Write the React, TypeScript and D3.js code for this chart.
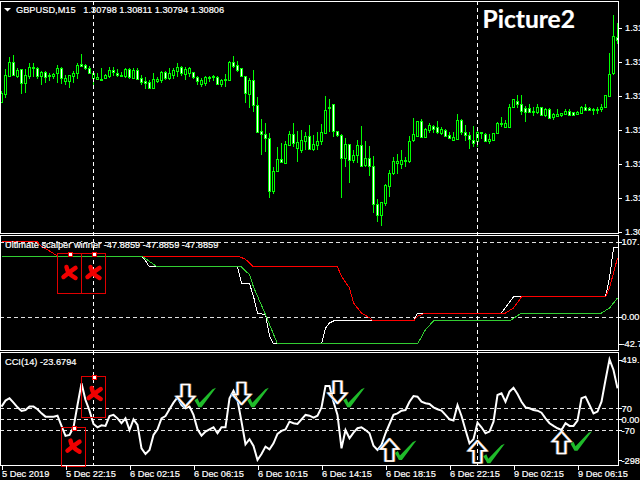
import { useEffect, useRef } from 'react';
import * as d3 from 'd3';

// Price panel, in points above the bottom of the chart
const opens = [
  392, 416, 472, 514, 472, 492, 450, 472, 498, 496,
  472, 483, 474, 472, 479, 495, 457, 457, 472, 479,
  507, 504, 496, 464, 465, 462, 464, 472, 489, 480,
  476, 472, 492, 466, 489, 465, 457, 453, 436, 457,
  460, 484, 466, 474, 486, 498, 479, 481, 483, 468,
  448, 451, 468, 471, 468, 447, 459, 461, 514, 504,
  495, 471, 419, 459, 384, 306, 297, 285, 126, 185,
  222, 212, 266, 298, 254, 250, 278, 292, 254, 263,
  275, 300, 376, 387, 306, 294, 224, 267, 218, 234,
  265, 203, 225, 202, 88, 55, 91, 143, 179, 209,
  206, 215, 215, 278, 290, 337, 288, 310, 323, 318,
  301, 311, 295, 280, 282, 339, 303, 294, 281, 276,
  300, 299, 277, 279, 299, 330, 318, 317, 377, 398,
  387, 375, 375, 366, 363, 379, 355, 372, 347, 353,
  353, 358, 368, 363, 359, 362, 378, 377, 371, 368,
  372, 377, 412, 481, 590,
];
const closes = [
  420, 474, 514, 474, 490, 450, 474, 498, 497, 472,
  483, 469, 470, 479, 495, 464, 465, 474, 480, 504,
  502, 494, 480, 480, 470, 464, 474, 490, 482, 475,
  475, 492, 467, 490, 463, 454, 451, 436, 462, 463,
  483, 466, 480, 489, 498, 479, 493, 495, 467, 457,
  459, 468, 469, 468, 448, 459, 462, 514, 502, 490,
  470, 419, 460, 384, 304, 297, 284, 126, 186, 222,
  212, 268, 298, 272, 273, 280, 292, 254, 268, 276,
  303, 370, 378, 305, 294, 224, 267, 218, 234, 265,
  203, 225, 200, 89, 56, 93, 144, 181, 216, 216,
  219, 219, 276, 297, 336, 290, 312, 324, 314, 302,
  312, 292, 287, 288, 339, 302, 293, 281, 272, 303,
  303, 277, 282, 300, 330, 328, 330, 378, 402, 388,
  366, 364, 364, 362, 379, 356, 373, 346, 357, 358,
  360, 368, 356, 355, 364, 380, 370, 372, 372, 372,
  378, 414, 477, 591, 580,
];
const highs = [
  428, 492, 528, 535, 495, 492, 492, 510, 510, 500,
  488, 488, 482, 482, 505, 500, 475, 475, 488, 510,
  537, 507, 502, 482, 482, 495, 478, 498, 498, 492,
  485, 495, 495, 496, 495, 474, 468, 460, 480, 468,
  488, 488, 495, 495, 510, 503, 498, 498, 485, 472,
  465, 472, 472, 474, 472, 462, 478, 517, 532, 518,
  496, 472, 465, 490, 408, 342, 332, 300, 198, 258,
  272, 276, 308, 330, 308, 310, 305, 325, 295, 305,
  328, 412, 403, 388, 307, 297, 285, 268, 250, 280,
  322, 277, 262, 232, 102, 94, 148, 190, 228, 238,
  250, 230, 292, 346, 338, 342, 316, 332, 326, 338,
  320, 312, 304, 305, 358, 342, 325, 305, 322, 315,
  303, 300, 298, 302, 335, 348, 340, 388, 404, 415,
  415, 382, 388, 378, 388, 380, 375, 375, 360, 373,
  362, 372, 372, 365, 368, 382, 388, 380, 375, 378,
  388, 415, 542, 655, 630,
];
const lows = [
  392, 405, 468, 472, 465, 418, 422, 464, 468, 464,
  445, 450, 458, 462, 450, 448, 444, 436, 450, 464,
  500, 490, 478, 438, 462, 457, 462, 466, 472, 468,
  468, 466, 462, 462, 460, 446, 432, 432, 434, 450,
  450, 460, 460, 462, 470, 472, 460, 468, 462, 444,
  440, 442, 455, 458, 445, 440, 438, 460, 496, 484,
  468, 392, 376, 365, 304, 235, 244, 106, 118, 185,
  210, 210, 264, 260, 214, 242, 250, 250, 246, 250,
  265, 298, 305, 288, 288, 106, 200, 152, 210, 210,
  202, 200, 172, 60, 35, 22, 82, 110, 175, 178,
  192, 200, 212, 275, 288, 288, 286, 302, 302, 298,
  295, 288, 282, 276, 280, 295, 278, 254, 260, 260,
  282, 275, 268, 276, 298, 318, 316, 316, 376, 376,
  355, 334, 360, 352, 358, 355, 348, 342, 340, 350,
  350, 356, 354, 352, 356, 360, 368, 370, 355, 358,
  365, 375, 410, 476, 568,
];
const priceTicks = [616, 514, 412, 310, 208, 106, 4];
const priceTickLabels = ['1.31', '1.31', '1.31', '1.31', '1.31', '1.31', '1.30'];

// Scalper panel: bar index and value of each corner of the three lines
const whiteBars = [0, 35, 36, 37, 59, 60, 62, 63, 64, 66, 67, 68, 80, 81, 82, 83, 103, 104, 125, 128, 151, 152, 153, 154];
const whiteValues = [81.3, 81.3, 75, 66.7, 66.7, 45.3, 44.4, 27.6, 5.3, 3.1, -25, -36, -36, -14.7, -8, -5.3, -5.3, 5.3, 5.3, 26.7, 26.7, 52, 92, 92];
const redBars = [0, 9, 10, 12, 14, 59, 61, 63, 84, 85, 87, 88, 90, 92, 93, 103, 104, 106, 126, 128, 130, 151, 152, 153, 154];
const redValues = [100, 100, 94, 88, 81.3, 81.3, 77, 66.7, 66.7, 54.2, 38.7, 18.7, 5.3, -1, -5.3, -5.3, 0.9, 5.3, 5.3, 12, 26.7, 26.7, 38.7, 58.7, 78.7];
const greenBars = [0, 35, 36, 39, 60, 62, 63, 66, 69, 104, 106, 108, 127, 130, 150, 152, 154];
const greenValues = [81.3, 81.3, 77.8, 66.7, 66.7, 56.4, 40, 3.1, -36, -36, -16.9, -5.3, -5.3, 5.3, 5.3, 12, 25.3];
const scalperLevels = [100, 0];
const scalperTicks = [100, 0, -36];
const scalperTickLabels = ['107.', '0.00', '-42.7'];

// CCI(14), one value per bar
const cci = [
  81, 119, 134, 106, 76, 53, 59, 81, 81, 64,
  38, 17, 17, 17, 23, -42, -106, -100, -51, 91,
  229, 123, 55, -30, -51, -38, -42, 21, 28, 6,
  -25, 6, -68, 0, -36, -185, -221, -195, -100, -64,
  6, 21, 64, 106, 140, 91, 70, 81, 28, -64,
  -104, -78, -64, -51, -89, -51, -51, 134, 182, 123,
  -15, -159, -127, -170, -259, -221, -174, -191, -153, -93,
  -74, -64, -15, -25, -30, 0, 28, 23, 11, 23,
  76, 212, 212, 112, 28, -185, -68, -121, -85, -57,
  -51, -68, -89, -168, -195, -163, -89, -30, 28, 38,
  55, 59, 112, 148, 144, 112, 102, 98, 76, 64,
  55, 28, 0, -8, 91, 21, -68, -153, -127, -21,
  -51, -89, -78, -15, 155, 165, 112, 176, 201, 161,
  112, 76, 70, 59, 55, 42, 6, -25, -42, -57,
  -68, -25, -42, -42, -8, 134, 144, 91, 38, 49,
  112, 250, 382, 314, 197,
];
const cciLevels = [70, 0, -70];
const cciTicks = [380, 70, 0, -70, -260];
const cciTickLabels = ['419.', '70', '0.00', '-70', '-298'];

const timeTicks = [0, 16, 32, 48, 64, 80, 96, 112, 128, 144];
const timeLabels = [
  '5 Dec 2019', '5 Dec 22:15', '6 Dec 02:15', '6 Dec 06:15', '6 Dec 10:15',
  '6 Dec 14:15', '6 Dec 18:15', '6 Dec 22:15', '9 Dec 02:15', '9 Dec 06:15',
];
const crosshairBars = [23, 119];

// Annotations pasted over the lower panels
const scalperCrossBars = [17, 23];
const scalperCrossValues = [58.7, 58.7];
const scalperBoxBars = [17, 23];
const scalperBoxTops = [84.9, 84.9];
const scalperBoxBottoms = [31.6, 31.6];
const cciCrossBars = [23.3, 18];
const cciCrossValues = [161, -174];
const cciBoxBars = [23, 18];
const cciBoxTops = [276, -51];
const cciBoxBottoms = [17, -298];
const downArrowBars = [46, 60, 84];
const downArrowValues = [81, 95, 102];
const upArrowBars = [97, 119, 140];
const upArrowValues = [-125, -136, -78];
const checkBars = [49.5, 62.7, 86.7, 99.6, 121.7, 143.5];
const checkValues = [76, 76, 76, -259, -280, -201];

const FONT = "'Liberation Sans', sans-serif";
const FONT_SIZE = 9.25;

export default function App() {
  const chartRef = useRef<SVGSVGElement | null>(null);

  useEffect(() => {
    if (!chartRef.current) return;
    const svg = d3.select(chartRef.current);
    svg.selectAll('*').remove();

    const right = 618.5;
    const x = d3.scaleLinear().domain([0, 154]).range([1.5, 617.5]);
    const yPrice = d3.scaleLinear().domain([0, 700]).range([233.33, 0]);
    const yScalper = d3.scaleLinear().domain([-42.7, 107]).range([349, 236.75]);
    const yCci = d3.scaleLinear().domain([-298, 419]).range([466.1, 353.5]);
    const px = (v: number) => Math.round(v) + 0.5;

    svg.append('rect').attr('width', 640).attr('height', 480).attr('fill', '#000');

    const clip = svg.append('defs').append('clipPath').attr('id', 'plot');
    clip.append('rect').attr('x', 0).attr('y', 0).attr('width', 618).attr('height', 466);

    const plot = svg.append('g').attr('clip-path', 'url(#plot)');

    // Velas
    const bars = d3.range(opens.length);
    const candles = plot.append('g').attr('shape-rendering', 'crispEdges');
    candles.selectAll('line').data(bars).enter().append('line')
      .attr('x1', (d) => x(d)).attr('x2', (d) => x(d))
      .attr('y1', (d) => Math.round(yPrice(highs[d])))
      .attr('y2', (d) => Math.round(yPrice(lows[d])))
      .attr('stroke', '#00ff00');
    candles.selectAll('rect').data(bars).enter().append('rect')
      .attr('x', (d) => x(d) - 1)
      .attr('width', 2)
      .attr('y', (d) => px(yPrice(Math.max(opens[d], closes[d]))))
      .attr('height', (d) => Math.max(1, Math.round(Math.abs(opens[d] - closes[d]) / 3)))
      .attr('fill', (d) => (closes[d] < opens[d] ? '#fff' : '#000'))
      .attr('stroke', '#00ff00');

    // Niveles punteados
    const level = (y: number) =>
      plot.append('line')
        .attr('x1', 0).attr('x2', right)
        .attr('y1', px(y)).attr('y2', px(y))
        .attr('stroke', '#e0e0e0')
        .attr('stroke-dasharray', '4 3')
        .attr('shape-rendering', 'crispEdges');
    scalperLevels.forEach((v) => level(yScalper(v)));
    cciLevels.forEach((v) => level(yCci(v)));

    // Lineas del indicador
    const drawLine = (xs: number[], ys: number[], color: string) => {
      plot.append('path')
        .datum(d3.range(xs.length))
        .attr('fill', 'none')
        .attr('stroke', color)
        .attr('shape-rendering', 'crispEdges')
        .attr('d', d3.line<number>().x((i) => x(xs[i])).y((i) => yScalper(ys[i])));
    };
    drawLine(whiteBars, whiteValues, '#ffffff');
    drawLine(redBars, redValues, '#ff0000');
    drawLine(greenBars, greenValues, '#32cd32');

    // CCI
    plot.append('path')
      .datum(cci)
      .attr('fill', 'none')
      .attr('stroke', '#fff')
      .attr('stroke-width', 2)
      .attr('d', d3.line<number>().x((_, i) => x(i)).y((d) => yCci(d)));

    // Cruces punteadas
    crosshairBars.forEach((b) => {
      plot.append('line')
        .attr('x1', x(b)).attr('x2', x(b))
        .attr('y1', 1).attr('y2', 466)
        .attr('stroke', '#fff')
        .attr('stroke-dasharray', '4 3')
        .attr('shape-rendering', 'crispEdges');
    });

    // Marcos de los paneles
    const panels = [[1.5, 233.5], [235.5, 350.5], [352.5, 465.5]];
    panels.forEach(([top, bottom]) => {
      svg.append('rect')
        .attr('x', 0.5).attr('y', top)
        .attr('width', right - 0.5).attr('height', bottom - top)
        .attr('fill', 'none').attr('stroke', '#fff')
        .attr('shape-rendering', 'crispEdges');
    });

    const notes = svg.append('g');

    // Cajas y marcadores rojos
    const box = (bar: number, top: number, bottom: number) => {
      notes.append('rect')
        .attr('x', x(bar) - 12).attr('y', px(top))
        .attr('width', 24).attr('height', Math.round(bottom - top))
        .attr('fill', 'none').attr('stroke', '#e00000')
        .attr('shape-rendering', 'crispEdges');
      notes.append('rect')
        .attr('x', x(bar) - 1.5).attr('y', px(top) - 1.5)
        .attr('width', 4).attr('height', 4)
        .attr('fill', '#fff').attr('stroke', '#f00000')
        .attr('shape-rendering', 'crispEdges');
    };
    scalperBoxBars.forEach((b, i) => box(b, yScalper(scalperBoxTops[i]), yScalper(scalperBoxBottoms[i])));
    cciBoxBars.forEach((b, i) => box(b, yCci(cciBoxTops[i]), Math.min(466, yCci(cciBoxBottoms[i]))));

    const cross = (cx: number, cy: number) => {
      notes.append('path')
        .attr('transform', `translate(${cx},${cy})`)
        .attr('d', 'M-3,-6 Q-2,1 6,5 M6,-5 Q0,-1 -6,4')
        .attr('fill', 'none')
        .attr('stroke', '#f00000')
        .attr('stroke-width', 4.5)
        .attr('stroke-linecap', 'round');
    };
    scalperCrossBars.forEach((b, i) => cross(x(b), yScalper(scalperCrossValues[i])));
    cciCrossBars.forEach((b, i) => cross(x(b), yCci(cciCrossValues[i])));

    // Flechas
    const downShape = 'M-4,-22 L4,-22 L4,-10 L9,-10 L0,0 L-9,-10 L-4,-10 Z';
    const upShape = 'M0,0 L9,10 L4,10 L4,22 L-4,22 L-4,10 L-9,10 Z';
    const arrow = (cx: number, cy: number, shape: string) => {
      [[-1, '#4da6ff'], [1, '#ff9933'], [0, '#ffffff']].forEach(([dx, color]) => {
        notes.append('path')
          .attr('transform', `translate(${cx + (dx as number)},${cy})`)
          .attr('d', shape)
          .attr('fill', 'none')
          .attr('stroke', color as string)
          .attr('stroke-width', 1.5);
      });
    };
    downArrowBars.forEach((b, i) => arrow(x(b), yCci(downArrowValues[i]), downShape));
    upArrowBars.forEach((b, i) => arrow(x(b), yCci(upArrowValues[i]), upShape));

    // Marcas verdes
    checkBars.forEach((b, i) => {
      notes.append('path')
        .attr('transform', `translate(${x(b)},${yCci(checkValues[i])})`)
        .attr('d', 'M-5,-7 L-2,-9 L0,-4.5 L13,-18 L16.5,-19.5 L2,0 L-1,0 Z')
        .attr('fill', '#1fbb2a');
    });

    // Textos
    const label = (tx: number, ty: number, text: string, size = FONT_SIZE) =>
      svg.append('text')
        .attr('x', tx).attr('y', ty)
        .attr('fill', '#fff')
        .attr('stroke', '#fff')
        .attr('stroke-width', 0.2)
        .style('font-family', FONT)
        .style('font-size', `${size}px`)
        .text(text);

    svg.append('path').attr('d', 'M4,8 L11,8 L7.5,11.5 Z').attr('fill', '#fff');
    label(16, 13, 'GBPUSD,M15\u00a0\u00a0\u00a01.30798 1.30811 1.30794 1.30806');
    label(5, 247.5, 'Ultimate scalper winner -47.8859 -47.8859 -47.8859');
    label(5, 364.5, 'CCI(14) -23.6794');
    label(482.5, 28, 'Picture2', 24.6)
      .style('font-family', 'Lato, sans-serif')
      .style('font-weight', 700);

    // Ejes
    const tickMark = (ty: number, tx = 622) =>
      svg.append('line')
        .attr('x1', right).attr('x2', tx)
        .attr('y1', px(ty)).attr('y2', px(ty))
        .attr('stroke', '#fff')
        .attr('shape-rendering', 'crispEdges');

    priceTicks.forEach((v, i) => {
      tickMark(yPrice(v));
      label(625, yPrice(v) + 3.5, priceTickLabels[i]);
    });
    scalperTicks.forEach((v, i) => {
      tickMark(yScalper(v));
      label(621.5, yScalper(v) + 3.5, scalperTickLabels[i]);
    });
    cciTicks.forEach((v, i) => {
      tickMark(yCci(v));
      label(621.5, yCci(v) + 3.5, cciTickLabels[i]);
    });

    const timeAxis = svg.append('g')
      .attr('transform', 'translate(0,465.5)')
      .call(
        d3.axisBottom(x)
          .tickValues(timeTicks)
          .tickFormat((_, i) => timeLabels[i])
          .tickSize(4)
          .tickSizeOuter(0)
      );
    timeAxis.select('.domain').remove();
    timeAxis.selectAll('line').attr('stroke', '#fff').attr('shape-rendering', 'crispEdges');
    timeAxis.selectAll('text')
      .attr('fill', '#fff')
      .attr('stroke', '#fff')
      .attr('stroke-width', 0.2)
      .attr('text-anchor', 'start')
      .attr('x', 0)
      .attr('y', 5)
      .attr('dy', '0.71em')
      .style('font-family', FONT)
      .style('font-size', `${FONT_SIZE}px`);
  }, []);

  return (
    <svg
      ref={chartRef}
      width={640}
      height={480}
      style={{ position: 'absolute', left: 0, top: 0, display: 'block' }}
    />
  );
}
